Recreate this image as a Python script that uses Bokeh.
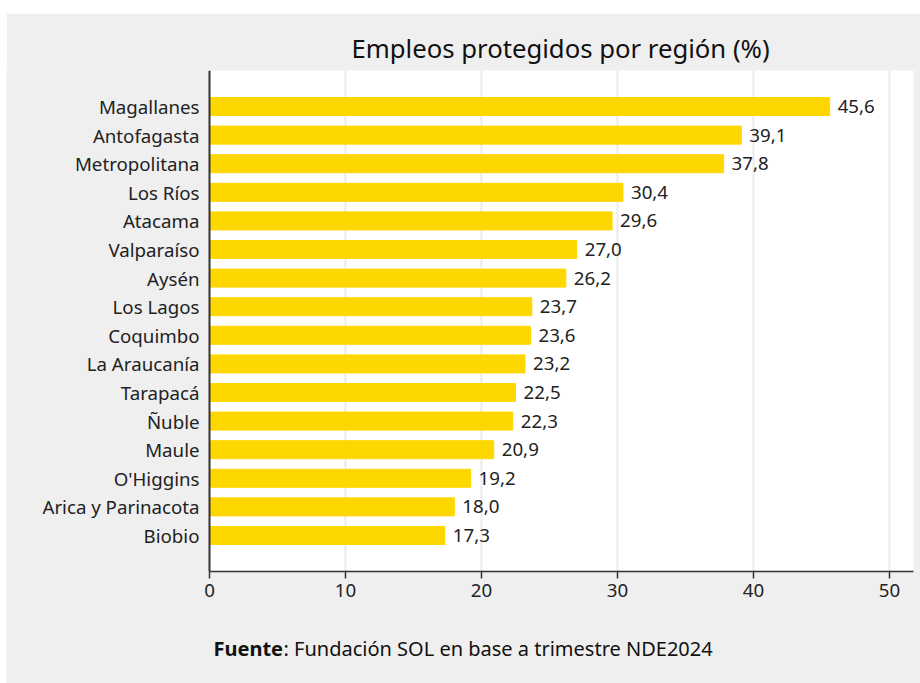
from bokeh.plotting import figure
from bokeh.models import ColumnDataSource, Range1d, Label, BoxAnnotation, FixedTicker
from bokeh.core.properties import value
from bokeh.embed import file_html
from bokeh.resources import INLINE

regiones = ["Magallanes", "Antofagasta", "Metropolitana", "Los Ríos", "Atacama",
            "Valparaíso", "Aysén", "Los Lagos", "Coquimbo", "La Araucanía",
            "Tarapacá", "Ñuble", "Maule", "O'Higgins", "Arica y Parinacota", "Biobio"]
valores = [45.6, 39.1, 37.8, 30.4, 29.6, 27.0, 26.2, 23.7, 23.6, 23.2,
           22.5, 22.3, 20.9, 19.2, 18.0, 17.3]
x_ticks = [0, 10, 20, 30, 40, 50]
x_max = 51.76

FONT = "Noto Sans"
GRAY = "#efefef"

# layout (pixels)
FIG_W, FIG_H, TOP = 914, 670, 57
PLOT_LEFT_PX = 203            # plot area left edge, from figure left
PLOT_H_PX = 501
PX_PER_X = 13.6

n = len(regiones)
pos = [n - 1 - i for i in range(n)]          # top to bottom
pad = 0.76
plot_bottom = -0.5 - pad
plot_top = n - 0.5 + pad
px_per_y = PLOT_H_PX / (plot_top - plot_bottom)
y_start = plot_top - (FIG_H - TOP) / px_per_y
x_start = -PLOT_LEFT_PX / PX_PER_X
x_end = (FIG_W - PLOT_LEFT_PX) / PX_PER_X

src = ColumnDataSource(dict(
    pos=pos,
    valor=valores,
    etiqueta=[f"{v:.1f}".replace(".", ",") for v in valores],
))

p = figure(width=FIG_W, height=FIG_H, output_backend="svg", toolbar_location=None,
           y_range=Range1d(y_start, plot_top),
           x_range=Range1d(x_start, x_end),
           title="Empleos protegidos por región (%)",
           min_border_left=0, min_border_right=0, min_border_top=TOP,
           min_border_bottom=0)
p.margin = (13, 0, 0, 6)

p.background_fill_color = GRAY
p.border_fill_color = GRAY
p.outline_line_color = None

# white plot area
p.add_layout(BoxAnnotation(left=0, right=x_max, bottom=plot_bottom, fill_color="white",
                           fill_alpha=1.0, line_color=None, level="image"))

# vertical grid lines within the plot area
p.segment(x0=x_ticks[1:], x1=x_ticks[1:], y0=plot_bottom, y1=plot_top,
          line_color="#ebebeb", line_width=2, level="underlay")

p.hbar(y="pos", right="valor", height=0.63, source=src, color="#FFD700")
p.text(x="valor", y="pos", text="etiqueta", source=src, x_offset=8,
       text_baseline="middle", text_align="left", text_font=value(FONT),
       text_font_size="18.7px", text_color="#222222")

p.title.text_font = FONT
p.title.text_font_size = "25.7px"
p.title.text_font_style = "normal"
p.title.text_color = "#111111"
p.title.align = "left"
p.title.offset = 345

p.xgrid.visible = False
p.ygrid.visible = False

p.xaxis.fixed_location = plot_bottom
p.xaxis.bounds = (0, x_max)
p.xaxis.ticker = x_ticks
p.xaxis.major_label_text_font = FONT
p.xaxis.major_label_text_font_size = "18.7px"
p.xaxis.major_label_text_color = "#222222"
p.xaxis.axis_line_color = "#333333"
p.xaxis.axis_line_width = 1.5
p.xaxis.major_tick_line_color = "#333333"
p.xaxis.major_tick_line_width = 1.5
p.xaxis.major_tick_out = 7
p.xaxis.major_tick_in = 0
p.xaxis.minor_tick_line_color = None

p.yaxis.fixed_location = 0
p.yaxis.ticker = FixedTicker(ticks=pos)
p.yaxis.major_label_overrides = {pp: r for pp, r in zip(pos, regiones)}
p.yaxis.bounds = (plot_bottom, plot_top)
p.yaxis.major_label_text_font = FONT
p.yaxis.major_label_text_font_size = "18.7px"
p.yaxis.major_label_text_color = "#222222"
p.yaxis.axis_line_color = "#333333"
p.yaxis.axis_line_width = 2
p.yaxis.major_tick_line_color = None
p.yaxis.minor_tick_line_color = None
p.yaxis.major_label_standoff = 4

fuente_b = Label(x=207, y=35, x_units="screen", y_units="screen", text="Fuente",
                 text_font=FONT, text_font_size="20px", text_font_style="bold",
                 text_color="#111111", text_baseline="middle")
fuente_n = Label(x=277, y=35, x_units="screen", y_units="screen",
                 text=": Fundación SOL en base a trimestre NDE2024",
                 text_font=FONT, text_font_size="20px", text_color="#111111",
                 text_baseline="middle")
p.add_layout(fuente_b)
p.add_layout(fuente_n)

open("out.html", "w").write(file_html(p, INLINE))
